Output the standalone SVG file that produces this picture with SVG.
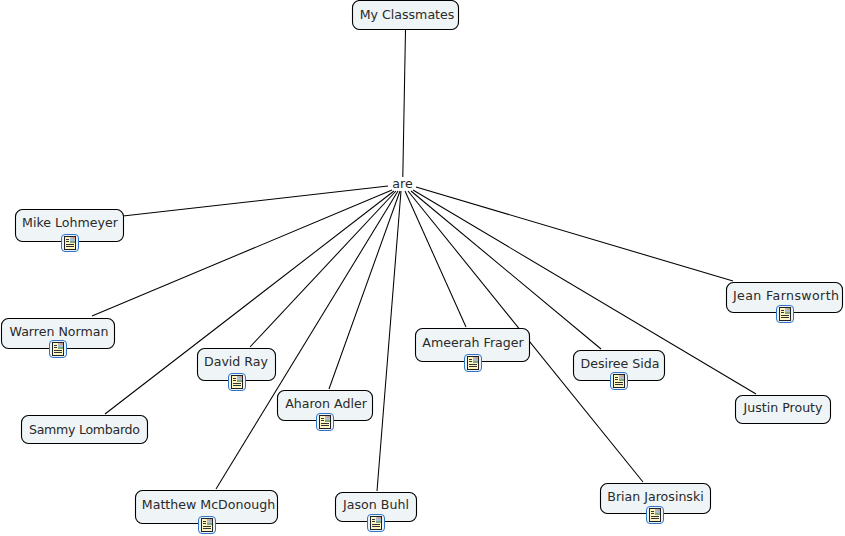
<svg xmlns="http://www.w3.org/2000/svg" width="845" height="536" viewBox="0 0 845 536">
<style>
.n{fill:#eff5f7;stroke:#000;stroke-width:1.1}
text{font-family:"DejaVu Sans",Verdana,sans-serif;font-size:12.6px;fill:#2a2a2a;text-anchor:middle}
#connectors line{stroke:#000;stroke-width:1.05}
.ib{fill:#eaf3fc;stroke:#2f74c8;stroke-width:1}
.pg{fill:#fff6c4;stroke:#222;stroke-width:1}
.tl{stroke:#333;stroke-width:1;fill:none}
</style>
<defs>
<g id="doc">
<rect class="ib" x="-8.500" y="-8.500" width="17" height="17" rx="3.500"/>
<rect class="pg" x="-5.500" y="-6.500" width="11" height="13"/>
<rect x="0" y="-6" width="5" height="6" fill="#a9bdd4"/>
<rect x="2.500" y="-6" width="2.500" height="2" fill="#e09a78"/>
<rect x="0" y="-2" width="5" height="2" fill="#7fa87f"/>
<path class="tl" d="M-4-3.500H-1M-4-1.500H-1M-4 1.500H4M-4 3.500H4"/>
</g>
</defs>
<rect width="845" height="536" fill="#fff"/>
<g id="connectors">
<line x1="405.500" y1="30" x2="402.800" y2="177"/>
<line x1="388" y1="186" x2="123" y2="216"/>
<line x1="392" y1="190" x2="92" y2="316"/>
<line x1="394" y1="191" x2="105" y2="414"/>
<line x1="396" y1="191" x2="250" y2="347"/>
<line x1="398" y1="191" x2="216" y2="489"/>
<line x1="400" y1="191" x2="329" y2="389"/>
<line x1="401" y1="191" x2="377" y2="491"/>
<line x1="405" y1="191" x2="466" y2="327"/>
<line x1="408" y1="191" x2="643" y2="482"/>
<line x1="411" y1="191" x2="601" y2="349"/>
<line x1="413" y1="190" x2="756" y2="394"/>
<line x1="416" y1="187" x2="733" y2="281"/>
</g>
<g id="node-are"><text x="402.500" y="188">are</text></g>
<g id="node-classmates"><rect class="n" x="352.500" y="0.500" width="106" height="29" rx="7"/><text x="407" y="19">My Classmates</text></g>
<g id="node-mike"><rect class="n" x="15.500" y="209.500" width="108" height="32" rx="7"/><text x="70" y="227">Mike Lohmeyer</text><use href="#doc" x="70" y="243"/></g>
<g id="node-warren"><rect class="n" x="1.500" y="318.500" width="113" height="30" rx="7"/><text x="59" y="336">Warren Norman</text><use href="#doc" x="58" y="349"/></g>
<g id="node-sammy"><rect class="n" x="21.500" y="415.500" width="126" height="28" rx="7"/><text x="84.500" y="434" textLength="111">Sammy Lombardo</text></g>
<g id="node-david"><rect class="n" x="197.500" y="348.500" width="78" height="32" rx="7"/><text x="236" y="366">David Ray</text><use href="#doc" x="237" y="382"/></g>
<g id="node-aharon"><rect class="n" x="277.500" y="390.500" width="95" height="30" rx="7"/><text x="326" y="408">Aharon Adler</text><use href="#doc" x="325" y="422"/></g>
<g id="node-matthew"><rect class="n" x="135.500" y="490.500" width="142" height="33" rx="7"/><text x="208.500" y="509">Matthew McDonough</text><use href="#doc" x="207" y="525"/></g>
<g id="node-jason"><rect class="n" x="335.500" y="492.500" width="81" height="29" rx="7"/><text x="376" y="509">Jason Buhl</text><use href="#doc" x="376" y="523"/></g>
<g id="node-ameerah"><rect class="n" x="415.500" y="328.500" width="114" height="33" rx="7"/><text x="473" y="347">Ameerah Frager</text><use href="#doc" x="473" y="363"/></g>
<g id="node-desiree"><rect class="n" x="573.500" y="350.500" width="91" height="30" rx="7"/><text x="620" y="368">Desiree Sida</text><use href="#doc" x="619" y="381"/></g>
<g id="node-brian"><rect class="n" x="600.500" y="483.500" width="110" height="30" rx="7"/><text x="655.500" y="501">Brian Jarosinski</text><use href="#doc" x="655" y="515"/></g>
<g id="node-justin"><rect class="n" x="735.500" y="395.500" width="95" height="28" rx="7"/><text x="783" y="412">Justin Prouty</text></g>
<g id="node-jean"><rect class="n" x="726.500" y="282.500" width="116" height="30" rx="7"/><text x="786" y="300" textLength="106">Jean Farnsworth</text><use href="#doc" x="785" y="314"/></g>
</svg>
